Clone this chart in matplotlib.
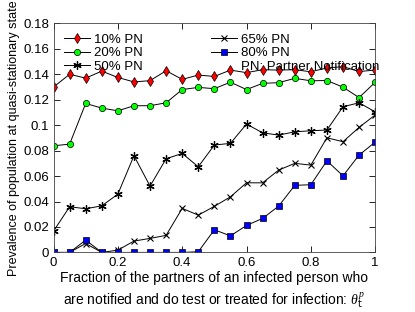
import matplotlib.pyplot as plt
from matplotlib.lines import Line2D
from matplotlib.ticker import FormatStrFormatter

plt.rcParams['font.family'] = ['Liberation Sans', 'DejaVu Sans']
plt.rcParams['mathtext.fontset'] = 'custom'
plt.rcParams['mathtext.it'] = 'Liberation Serif:italic'

# fraction of partners notified
theta = [0, 0.05, 0.1, 0.15, 0.2, 0.25, 0.3, 0.35, 0.4, 0.45, 0.5,
         0.55, 0.6, 0.65, 0.7, 0.75, 0.8, 0.85, 0.9, 0.95, 1.0]

pn10 = [0.130, 0.140, 0.137, 0.1425, 0.1375, 0.134, 0.135, 0.1428, 0.136, 0.1394, 0.1383,
        0.1433, 0.1413, 0.1436, 0.1433, 0.1436, 0.142, 0.145, 0.146, 0.1422, 0.1433]
pn20 = [0.0838, 0.0851, 0.1171, 0.1134, 0.1113, 0.1153, 0.1153, 0.1176, 0.128, 0.1297, 0.1287,
        0.1338, 0.128, 0.1329, 0.1334, 0.1368, 0.1349, 0.1351, 0.1299, 0.1217, 0.1337]
pn50 = [0.0167, 0.0359, 0.0343, 0.0366, 0.0458, 0.076, 0.0521, 0.0736, 0.0778, 0.0673, 0.0844,
        0.0857, 0.1009, 0.094, 0.0922, 0.0948, 0.0956, 0.0962, 0.1145, 0.1176, 0.1105]
pn65 = [0, 0, 0.007, 0, 0.0018, 0.0089, 0.011, 0.0134, 0.0346, 0.0293, 0.0362,
        0.0437, 0.0547, 0.0547, 0.0647, 0.070, 0.0686, 0.0901, 0.087, 0.0983, 0.108]
pn80 = [0, 0, 0.0097, 0, 0, 0, 0, 0, 0, 0.0005, 0.0178,
        0.013, 0.0212, 0.0267, 0.0364, 0.0527, 0.0532, 0.072, 0.0602, 0.0765, 0.0867]

fig = plt.figure(figsize=(4.15, 3.12), dpi=100)
ax = fig.add_axes([0.129, 0.191, 0.775, 0.734])

lw = 0.7
ax.plot(theta, pn10, '-', color='k', lw=lw, marker='d', ms=5, mfc='#ff0000', mec='k', mew=0.5, label='10% PN')
ax.plot(theta, pn20, '-', color='k', lw=lw, marker='o', ms=4.5, mfc='#00ff00', mec='k', mew=0.5, label='20% PN')
ax.plot(theta, pn50, '-', color='k', lw=lw, marker=(6, 2, 0), ms=6, mec='k', mew=0.9, label='50% PN')
ax.plot(theta, pn65, '-', color='k', lw=lw, marker='x', ms=4, mec='k', mew=0.8, label='65% PN')
ax.plot(theta, pn80, '-', color='k', lw=lw, marker='s', ms=3.8, mfc='#0000ff', mec='k', mew=0.5, label='80% PN')

handles, labels = ax.get_legend_handles_labels()
handles.append(Line2D([], [], linestyle='none'))
labels.append('PN: Partner Notification')
ax.legend(handles, labels, ncol=2, loc='upper left', bbox_to_anchor=(0.012, 0.985),
          frameon=False, fontsize=9.5, borderpad=0, handlelength=2.0, handletextpad=0.3,
          labelspacing=0.1, columnspacing=5.1)

ax.set_xlim(0, 1)
ax.set_ylim(0, 0.18)
ax.set_xticks([0, 0.2, 0.4, 0.6, 0.8, 1])
ax.set_yticks([0, 0.02, 0.04, 0.06, 0.08, 0.1, 0.12, 0.14, 0.16, 0.18])
ax.xaxis.set_major_formatter(FormatStrFormatter('%g'))
ax.yaxis.set_major_formatter(FormatStrFormatter('%g'))
ax.tick_params(direction='in', top=True, right=True, labelsize=9.5, length=4, width=0.6, pad=3)
for s in ax.spines.values():
    s.set_linewidth(0.6)
    s.set_color('#444444')

ax.set_xlabel('Fraction of the partners of an infected person who\n'
              'are notified and do test or treated for infection: $\\theta_{\\rm t}^{p}$',
              fontsize=10, labelpad=2, linespacing=1.35)
ax.set_ylabel('Prevalence of population at quasi-stationary state', fontsize=9)
ax.yaxis.set_label_coords(-0.104, 0.5)

fig.savefig('out.png', dpi=100)
